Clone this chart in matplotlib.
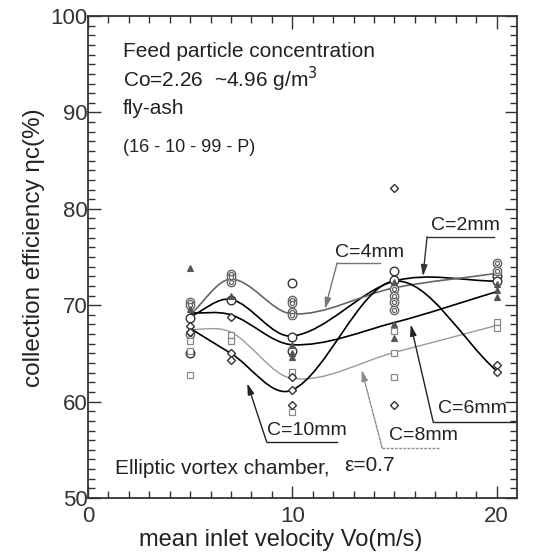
import matplotlib.pyplot as plt
import numpy as np
from matplotlib.path import Path
from matplotlib.patches import PathPatch

plt.rcParams['font.family'] = ['Liberation Sans', 'DejaVu Sans']

# inlet velocities where the runs were taken (m/s)
velocity = [5, 7, 10, 15, 20]

# fitted curve values per slit width C, at each velocity
fit_c2 = [68.8, 70.6, 66.8, 72.5, 72.5]
fit_c4 = [69.0, 72.7, 69.1, 71.8, 73.3]
fit_c6 = [69.2, 69.0, 65.9, 68.2, 71.4]
fit_c8 = [67.5, 67.2, 62.4, 65.1, 67.9]
fit_c10 = [67.6, 65.0, 61.2, 72.5, 63.2]

# individual measurements (velocity, efficiency)
pts_c2_x = [5, 5, 7, 10, 10, 10, 15, 15, 20, 20]
pts_c2_y = [68.7, 65.0, 70.5, 72.3, 66.7, 65.3, 73.5, 72.6, 73.0, 72.5]
pts_c4_x = [5, 5, 5, 7, 7, 7, 10, 10, 10, 10, 15, 15, 15, 15, 20, 20]
pts_c4_y = [70.3, 70.0, 67.0, 73.2, 72.9, 72.4, 70.5, 70.2, 69.3, 69.0,
            71.7, 71.0, 70.3, 69.5, 74.4, 73.5]
pts_c6_x = [5, 5, 7, 10, 10, 10, 15, 15, 15, 20, 20, 20]
pts_c6_y = [73.9, 69.6, 71.0, 65.9, 65.0, 64.6, 72.4, 68.1, 66.6,
            72.2, 71.6, 70.9]
pts_c8_x = [5, 5, 5, 7, 7, 10, 10, 15, 15, 15, 20, 20]
pts_c8_y = [66.3, 65.3, 62.8, 66.9, 66.3, 63.1, 58.9, 67.3, 65.0, 62.6,
            68.3, 67.6]
pts_c10_x = [5, 5, 7, 7, 7, 10, 10, 10, 15, 15, 20, 20]
pts_c10_y = [67.8, 67.2, 68.8, 65.0, 64.3, 62.5, 61.2, 59.6, 82.2, 59.6,
             63.8, 63.1]


def smooth_path(xs, ys):
    """Cubic Hermite curve through the points, as a bezier path."""
    xs = np.asarray(xs, float)
    ys = np.asarray(ys, float)
    m = np.empty_like(ys)
    m[1:-1] = (ys[2:] - ys[:-2]) / (xs[2:] - xs[:-2])
    m[0] = (ys[1] - ys[0]) / (xs[1] - xs[0])
    m[-1] = (ys[-1] - ys[-2]) / (xs[-1] - xs[-2])
    verts = [(xs[0], ys[0])]
    codes = [Path.MOVETO]
    for i in range(len(xs) - 1):
        h = xs[i + 1] - xs[i]
        verts += [(xs[i] + h / 3, ys[i] + m[i] * h / 3),
                  (xs[i + 1] - h / 3, ys[i + 1] - m[i + 1] * h / 3),
                  (xs[i + 1], ys[i + 1])]
        codes += [Path.CURVE4] * 3
    return Path(verts, codes)


fig = plt.figure(figsize=(5.43, 5.53), dpi=100)
ax = fig.add_axes([0.162, 0.0995, 0.79, 0.8715])

curves = [
    (fit_c2, 'black', 1.2),
    (fit_c4, '#666666', 1.2),
    (fit_c6, 'black', 1.2),
    (fit_c8, '#9a9a9a', 1.0),
    (fit_c10, 'black', 1.2),
]
for vals, col, lw in curves:
    ax.add_patch(PathPatch(smooth_path(velocity, vals), fill=False,
                           edgecolor=col, lw=lw, zorder=2))

mk = dict(linestyle='none', zorder=3)
ax.plot(pts_c2_x, pts_c2_y, marker='o', ms=6.2, mfc='white',
        mec='#333333', mew=1.0, **mk)
ax.plot(pts_c4_x, pts_c4_y, marker='o', ms=6, mfc='white',
        mec='#666666', mew=1.0, **mk)
ax.plot(pts_c4_x, pts_c4_y, marker='o', ms=3, mfc='white',
        mec='#666666', mew=0.9, **mk)
ax.plot(pts_c6_x, pts_c6_y, marker='^', ms=4, mfc='#555555',
        mec='#555555', mew=0.8, **mk)
ax.plot(pts_c8_x, pts_c8_y, marker='s', ms=4.5, mfc='white',
        mec='#888888', mew=0.9, **mk)
ax.plot(pts_c10_x, pts_c10_y, marker='D', ms=4.5, mfc='white',
        mec='#333333', mew=1.0, **mk)

# labels with leader lines and arrows
arrow_kw = dict(arrowstyle='-|>,head_length=0.55,head_width=0.16',
                shrinkA=0, shrinkB=0, mutation_scale=12)
leaders = [
    ('C=2mm', (18.5, 78.3), (19.9, 16.6, 77.1), (16.4, 73.0), '#333333', '-'),
    ('C=4mm', (13.8, 75.5), (14.3, 12.2, 74.4), (11.6, 69.6), '#777777', '-'),
    ('C=6mm', (18.8, 59.3), (20.9, 16.9, 57.9), (15.8, 68.0), '#222222', '-'),
    ('C=8mm', (16.4, 56.5), (17.2, 14.4, 55.2), (13.4, 63.3), '#8a8a8a',
     (0, (2, 1))),
    ('C=10mm', (10.7, 57.0), (12.2, 8.75, 55.8), (7.8, 61.9), '#222222', '-'),
]
for text, tpos, (xa, xb, yl), tip, col, ls in leaders:
    ax.text(tpos[0], tpos[1], text, fontsize=14, ha='center', va='center',
            color='#222222', zorder=4)
    ax.plot([xa, xb], [yl, yl], color=col, lw=1.0, ls=ls, zorder=4)
    ax.annotate('', xy=tip, xytext=(xb, yl),
                arrowprops=dict(color=col, lw=1.0, ls=ls, **arrow_kw),
                zorder=4)

note_kw = dict(fontsize=15, va='center', color='#222222')
ax.text(1.72, 96.3, 'Feed particle concentration', **note_kw)
ax.text(1.72, 93.4, 'Co=2.26  ~4.96 g/m$^3$', **note_kw)
ax.text(1.72, 90.4, 'fly-ash', **note_kw)
ax.text(1.72, 86.4, '(16 - 10 - 99 - P)', fontsize=13, va='center',
        color='#222222')
ax.text(1.3, 53.1, 'Elliptic vortex chamber,', **note_kw)
ax.text(12.55, 53.4, '\u03b5=0.7', **note_kw)

ax.set_xlim(0, 21)
ax.set_ylim(50, 100)
ax.set_xticks([0, 10, 20])
ax.set_xticks(np.arange(0, 21, 1), minor=True)
ax.set_yticks(np.arange(50, 101, 10))
ax.set_yticks(np.arange(50, 101, 1), minor=True)
ax.tick_params(which='both', direction='in', top=True, right=True,
               width=1.0, color='#333333')
ax.tick_params(which='major', length=9, labelsize=16, labelcolor='#333333')
ax.tick_params(which='minor', length=5)
ax.tick_params(axis='y', which='major', pad=0)
ax.tick_params(axis='x', which='major', pad=6)
for sp in ax.spines.values():
    sp.set_linewidth(1.3)
    sp.set_color('#333333')

ax.set_xlabel('mean inlet velocity Vo(m/s)', fontsize=17, labelpad=1,
              color='#222222')
ax.xaxis.label.set_x(0.45)
ax.set_ylabel('collection efficiency \u03b7c(%)', fontsize=17.5, labelpad=4,
              color='#222222')
ax.yaxis.label.set_y(0.52)

fig.savefig('out.png', dpi=100)
